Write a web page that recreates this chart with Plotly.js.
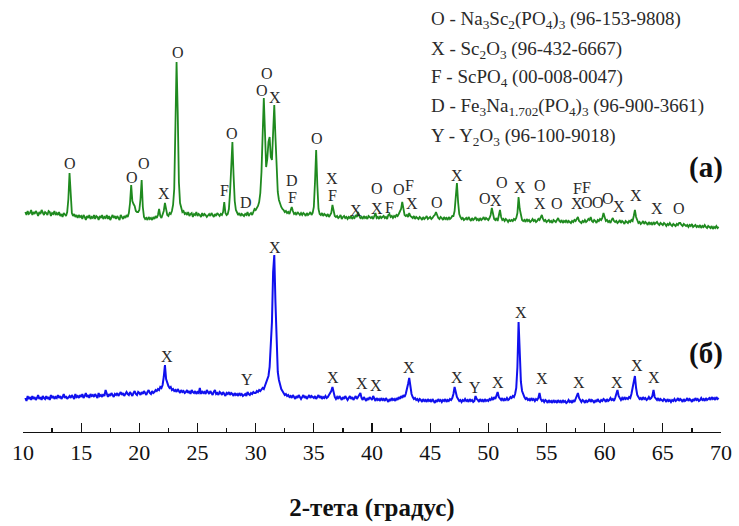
<!DOCTYPE html>
<html>
<head>
<meta charset="utf-8">
<script src="https://cdn.plot.ly/plotly-3.0.1.min.js"></script>
<style>
  html, body { margin: 0; padding: 0; background: #fff; }
  #chart { width: 739px; height: 526px; }
</style>
</head>
<body>
<div id="chart"></div>
<script>
// Scan grid: 2θ from 10.2° to 69.8° in 0.1° steps
const scanStart = 10.2;
const scanStep = 0.1;

// Pattern (a): intensity per grid point, one row per degree
const intensityA = [
  25,22,26,23,24,27,22,25,
  23,26,24,21,25,23,27,24,22,25,
  24,22,26,25,21,24,23,26,22,24,
  22,25,21,23,20,24,22,21,25,38,
  64,36,24,21,23,20,22,19,22,20,
  21,18,22,20,17,21,19,22,18,20,
  19,22,18,21,20,17,21,19,22,18,
  20,19,22,18,21,17,20,22,19,21,
  18,21,19,17,22,20,18,21,19,22,
  20,24,34,52,36,33,31,26,25,25,
  27,38,57,30,20,18,19,17,20,18,
  19,17,20,18,21,19,22,28,21,19,
  22,26,34,27,22,21,24,23,26,32,
  48,110,175,125,55,34,28,25,26,23,
  24,22,25,21,23,24,20,23,22,25,
  21,23,22,20,24,21,23,22,20,22,
  23,21,24,22,20,23,21,24,22,21,
  23,22,25,35,24,22,23,28,45,75,
  95,62,36,27,24,22,24,21,23,22,
  21,23,22,25,21,23,24,22,26,28,
  27,29,31,35,44,65,110,139,105,70,
  78,95,100,80,77,110,132,100,62,45,
  37,33,30,28,27,25,26,24,25,23,
  26,30,26,23,24,22,25,23,22,24,
  22,24,23,21,24,22,23,25,22,24,
  30,55,87,52,28,23,22,24,21,23,
  22,21,23,20,22,24,32,25,21,20,
  21,19,20,22,18,20,21,19,20,18,
  20,19,21,18,20,19,22,20,25,21,
  19,20,18,21,19,20,18,21,20,19,
  20,18,21,24,19,20,18,21,19,20,
  21,19,20,18,22,23,20,21,19,21,
  20,22,21,23,25,28,35,27,22,21,
  22,20,24,21,20,19,21,18,20,19,
  18,20,19,17,20,18,19,21,18,19,
  20,18,19,21,22,25,21,19,18,20,
  19,17,20,18,19,17,20,18,19,21,
  21,26,40,54,35,23,20,18,19,17,
  18,19,17,20,18,16,19,17,18,20,
  17,18,16,19,17,18,20,17,19,18,
  17,19,22,29,21,18,17,19,16,22,
  27,20,17,18,16,18,17,15,17,16,
  17,16,18,17,19,24,40,28,20,17,
  16,17,15,18,16,17,15,16,18,16,
  17,15,16,18,17,19,22,18,16,17,
  15,16,17,15,16,14,17,16,15,17,
  19,16,15,17,14,16,15,17,14,16,
  15,14,16,15,17,16,18,20,16,15,
  14,16,15,17,15,16,18,17,20,16,
  15,17,16,14,17,16,18,17,19,24,
  19,16,17,15,16,14,17,19,16,15,
  16,14,15,17,14,16,15,13,16,15,
  14,16,15,17,16,21,27,20,16,14,
  15,13,14,16,13,15,14,12,15,13,
  14,12,15,13,14,15,13,12,14,13,
  12,14,13,11,13,12,14,12,11,13,
  12,11,13,12,14,14,12,11,13,12,
  11,12,10,12,11,13,10,11,12,10,
  11,10,12,9,11,10,12,10,9,11,
  10,9,11,8,10,9,11,9,10
];

// Pattern (б): intensity per grid point, one row per degree
const intensityB = [
  14,11,16,13,15,12,16,13,
  15,12,14,17,13,15,12,16,14,13,
  16,13,15,12,17,14,16,13,15,14,
  17,14,16,13,15,18,14,16,13,15,
  16,14,17,15,13,18,15,16,14,17,
  15,18,14,16,19,15,17,14,18,16,
  17,15,18,16,14,19,16,17,15,18,
  16,22,17,15,18,16,19,17,15,18,
  17,19,16,18,20,17,19,16,18,20,
  18,17,20,18,16,19,21,18,17,20,
  19,17,20,18,21,19,17,20,22,19,
  18,21,19,20,22,21,23,22,25,24,
  27,35,47,33,28,26,24,25,22,23,
  21,22,20,23,21,19,22,20,21,19,
  20,22,19,21,18,22,20,19,21,18,
  20,19,24,18,21,19,20,18,22,19,
  18,21,19,17,20,22,18,19,17,20,
  19,17,20,18,16,19,18,20,17,19,
  18,16,19,17,18,16,19,17,18,16,
  17,18,16,20,18,17,19,18,20,19,
  19,21,20,22,21,23,24,23,26,28,
  31,36,45,70,90,140,157,110,60,40,
  32,27,23,21,19,17,18,16,17,15,
  16,14,17,15,13,16,14,17,15,13,
  15,17,14,16,13,15,17,14,16,15,
  14,16,13,15,17,14,16,13,15,14,
  16,14,15,17,19,21,25,18,15,13,
  15,13,16,14,12,15,13,16,14,12,
  14,16,13,15,12,14,16,13,15,17,
  19,14,12,15,13,11,14,12,15,13,
  12,16,13,11,14,12,13,11,14,12,
  13,11,14,12,10,13,11,14,12,13,
  11,14,12,15,13,16,14,17,15,18,
  22,28,34,24,18,15,13,14,12,13,
  11,13,12,10,13,11,12,10,13,11,
  12,10,13,11,9,12,10,13,11,12,
  10,12,11,13,10,12,11,13,12,14,
  18,25,19,15,13,11,12,10,12,11,
  13,11,12,10,13,11,12,10,11,16,
  13,12,10,13,11,12,10,13,11,12,
  11,13,12,14,12,15,13,16,20,15,
  13,12,14,11,13,12,14,12,13,15,
  14,16,15,18,24,45,90,58,30,21,
  17,15,13,14,12,13,11,14,12,13,
  11,13,12,14,19,13,11,12,10,12,
  11,9,12,10,11,9,12,10,11,9,
  12,10,11,9,12,10,11,9,10,12,
  10,11,9,12,10,13,15,19,14,11,
  10,12,11,9,12,10,11,13,10,12,
  11,9,12,10,13,11,10,12,11,13,
  12,10,13,11,12,14,12,13,11,14,
  17,22,16,13,12,14,12,15,13,14,
  13,15,14,18,24,30,36,24,17,15,
  13,14,12,15,13,14,12,13,15,13,
  14,16,22,15,13,12,14,11,13,12,
  11,13,12,10,13,11,12,10,12,11,
  13,11,12,14,11,13,12,10,13,11,
  12,14,11,13,12,10,13,11,14,12,
  13,11,12,14,12,13,11,14,12,13,
  14,12,15,13,14,12,15,13,14
];

// Phase key
const phaseCodes = ['O', 'X', 'F', 'D', 'Y'];
const phaseFormulas = [
  'Na<sub>3</sub>Sc<sub>2</sub>(PO<sub>4</sub>)<sub>3</sub>',
  'Sc<sub>2</sub>O<sub>3</sub>',
  'ScPO<sub>4</sub>',
  'Fe<sub>3</sub>Na<sub>1.702</sub>(PO<sub>4</sub>)<sub>3</sub>',
  'Y<sub>2</sub>O<sub>3</sub>'
];
const phaseCards = ['96-153-9808', '96-432-6667', '00-008-0047', '96-900-3661', '96-100-9018'];

// Peak identifications: [phase, 2θ]
const peaksA = [
  ['O',14.04],['O',19.4],['O',20.38],['X',22.12],['O',23.33],['F',27.28],['O',27.97],
  ['D',29.17],['O',30.98],['O',30.55],['X',31.62],['D',33.13],['F',33.13],['O',35.28],
  ['X',36.57],['F',36.57],['X',38.63],['O',40.44],['X',40.44],['F',41.5],['O',42.33],
  ['F',43.22],['X',43.4],['O',45.6],['X',47.32],['O',49.75],['X',50.7],['O',51.19],
  ['X',52.73],['O',54.45],['X',54.45],['O',55.92],['F',57.65],['F',58.45],['X',57.6],
  ['O',58.5],['O',59.4],['O',60.3],['X',61.2],['X',62.71],['X',64.51],['O',66.41]
];
const peaksB = [
  ['X',22.38],['Y',29.26],['X',31.67],['X',36.65],['X',39.15],['X',40.35],['X',43.19],
  ['X',47.32],['Y',48.87],['X',50.84],['X',52.82],['X',54.63],['X',57.81],['X',61.07],
  ['X',62.79],['X',64.25]
];

// Vertical placement of the letters (plot units above the axis line)
const labelHeightA = [269,255,269,239,380,242,299,230,359,342,335,252,235,294,254,237,222,
  244,224,225,243,247,229,230,257,234,232,250,245,247,229,229,244,245,229,230,230,234,226,237,224,224];
const labelHeightB = [76,53,185,55,49,47,65,55,45,50,120,54,50,50,67,55];

// Vertical stacking of the two patterns
const offsetA = 195;
const offsetB = 20;

const twoTheta = intensityA.map((_, i) => +(scanStart + i * scanStep).toFixed(1));

const serif = '"Liberation Serif", "Times New Roman", Times, serif';
const inkColor = '#2a2a2a';

const traces = [
  {
    x: twoTheta, y: intensityA.map(v => v + offsetA),
    type: 'scatter', mode: 'lines',
    line: { color: '#1f8a1f', width: 1.8 },
    hoverinfo: 'skip'
  },
  {
    x: twoTheta, y: intensityB.map(v => v + offsetB),
    type: 'scatter', mode: 'lines',
    line: { color: '#1010ee', width: 2.0 },
    hoverinfo: 'skip'
  }
];

const annotations = [];
const addLetters = (peaks, heights) => peaks.forEach(([code, angle], i) => {
  annotations.push({
    x: angle, y: heights[i], xref: 'x', yref: 'y', text: code, showarrow: false,
    xanchor: 'center', yanchor: 'middle',
    font: { family: serif, size: 16, color: inkColor }
  });
});
addLetters(peaksA, labelHeightA);
addLetters(peaksB, labelHeightB);

// Phase key, upper right
const keyRows = [412, 382, 354, 325, 295];
phaseCodes.forEach((code, i) => {
  annotations.push({
    x: 44.9, y: keyRows[i], xref: 'x', yref: 'y', showarrow: false,
    xanchor: 'left', yanchor: 'middle',
    text: `${code} - ${phaseFormulas[i]} (${phaseCards[i]})`,
    font: { family: serif, size: 19, color: inkColor }
  });
});

// Panel tags
[['(a)', 265], ['(б)', 79]].forEach(([tag, h]) => {
  annotations.push({
    x: 68.7, y: h, xref: 'x', yref: 'y', showarrow: false,
    xanchor: 'center', yanchor: 'middle',
    text: `<b>${tag}</b>`,
    font: { family: serif, size: 29, color: '#111' }
  });
});

const layout = {
  width: 739, height: 526,
  margin: { l: 23, r: 18, t: 0, b: 94 },
  paper_bgcolor: '#fff', plot_bgcolor: '#fff',
  showlegend: false,
  xaxis: {
    range: [10, 70], tick0: 10, dtick: 5,
    ticks: 'inside', ticklen: 9, tickwidth: 1.3, tickcolor: '#111',
    showline: true, linecolor: '#111', linewidth: 1.3,
    showgrid: false, zeroline: false,
    tickfont: { family: serif, size: 22, color: '#111' },
    minor: { dtick: 2.5, ticks: 'inside', ticklen: 4, tickwidth: 1.2, tickcolor: '#111', showgrid: false },
    title: {
      text: '<b>2-тета (градус)</b>',
      font: { family: serif, size: 25, color: '#111' },
      standoff: 34
    }
  },
  yaxis: { range: [0, 432], visible: false, showgrid: false, zeroline: false },
  annotations: annotations
};

Plotly.newPlot('chart', traces, layout, { staticPlot: true, displayModeBar: false });
</script>
</body>
</html>
